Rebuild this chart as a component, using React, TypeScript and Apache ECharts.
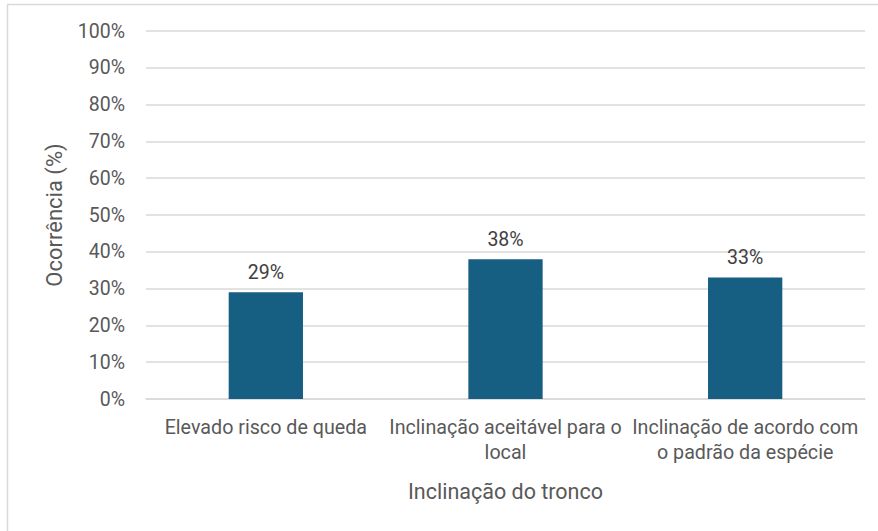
import React, { useEffect, useRef } from "react";
import * as echarts from "echarts";

const categories = [
  "Elevado risco de queda",
  "Inclinação aceitável para o\nlocal",
  "Inclinação de acordo com\no padrão da espécie",
];
const values = [29, 38, 33];
const yTicks = [0, 10, 20, 30, 40, 50, 60, 70, 80, 90, 100];
const xTitle = "Inclinação do tronco";
const yTitle = "Ocorrência (%)";

export default function App() {
  const ref = useRef<HTMLDivElement>(null);
  useEffect(() => {
    if (!ref.current) return;
    const chart = echarts.init(ref.current, null, { renderer: "svg" });
    const font = "Roboto, 'Noto Sans', sans-serif";
    chart.setOption({
      animation: false,
      backgroundColor: "#ffffff",
      graphic: [
        {
          type: "rect",
          shape: { x: 7.5, y: 4.5, width: 900, height: 600 },
          style: { fill: "none", stroke: "#d9d9d9", lineWidth: 1.5 },
          silent: true,
        },
      ],
      grid: { left: 146, right: 13, top: 31, bottom: 132 },
      xAxis: {
        type: "category",
        data: categories,
        axisLine: { show: true, lineStyle: { color: "#d9d9d9", width: 1.5 } },
        axisTick: { show: false },
        axisLabel: {
          color: "#595959",
          fontSize: 19.7,
          fontFamily: font,
          margin: 16,
          lineHeight: 25,
          interval: 0,
        },
        name: xTitle,
        nameLocation: "middle",
        nameGap: 81,
        nameTextStyle: { color: "#595959", fontSize: 21.5, fontFamily: font },
      },
      yAxis: {
        type: "value",
        min: yTicks[0],
        max: yTicks[yTicks.length - 1],
        interval: 10,
        axisLine: { show: false },
        axisTick: { show: false },
        splitLine: { lineStyle: { color: "#d9d9d9", width: 1.5 } },
        axisLabel: {
          color: "#595959",
          fontSize: 19.5,
          fontFamily: font,
          margin: 21,
          formatter: (v: number) => v + "%",
        },
        name: yTitle,
        nameLocation: "middle",
        nameGap: 81,
        nameTextStyle: { color: "#595959", fontSize: 22, fontFamily: font },
      },
      series: [
        {
          type: "bar",
          data: values,
          barWidth: "31%",
          itemStyle: { color: "#175f82" },
          label: {
            show: true,
            position: "top",
            distance: 10,
            color: "#404040",
            fontSize: 19.5,
            fontFamily: font,
            formatter: (p: any) => p.value + "%",
          },
        },
      ],
    });
    return () => chart.dispose();
  }, []);
  return (
    <div
      ref={ref}
      style={{ position: "fixed", left: 0, top: 0, width: 878, height: 531 }}
    />
  );
}
